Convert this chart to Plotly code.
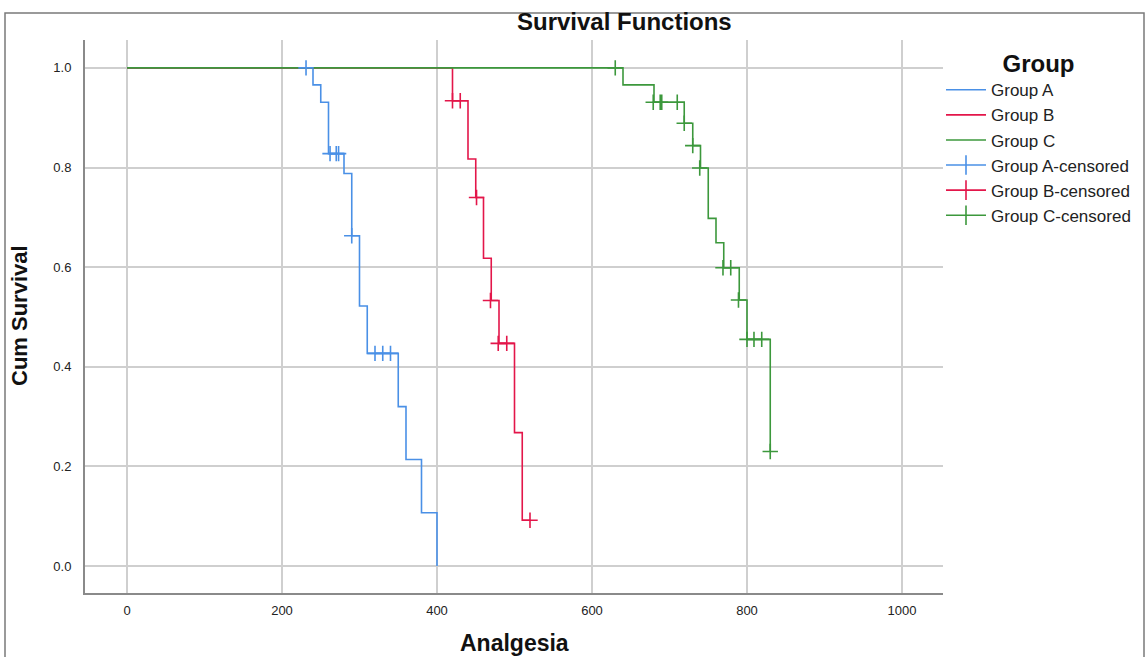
import plotly.graph_objects as go

# ---- data ----
groups = ["Group A", "Group B", "Group C"]

a_time = [0, 240, 250, 260, 280, 290, 300, 310, 350, 360, 380, 400]
a_surv = [1.0, 0.966, 0.931, 0.828, 0.788, 0.663, 0.522, 0.427, 0.320, 0.214, 0.107, 0.0]
a_cens_time = [231, 262, 270, 273, 290, 320, 330, 340]
a_cens_surv = [1.0, 0.828, 0.828, 0.828, 0.663, 0.427, 0.427, 0.427]

b_time = [0, 420, 440, 450, 460, 470, 480, 500, 510, 520]
b_surv = [1.0, 0.934, 0.817, 0.740, 0.618, 0.533, 0.447, 0.268, 0.092, 0.092]
b_cens_time = [420, 430, 451, 469, 479, 490, 520]
b_cens_surv = [0.934, 0.934, 0.740, 0.533, 0.447, 0.447, 0.092]

c_time = [0, 640, 680, 719, 730, 740, 750, 760, 770, 790, 800, 830]
c_surv = [1.0, 0.966, 0.931, 0.889, 0.844, 0.799, 0.698, 0.649, 0.599, 0.534, 0.455, 0.230]
c_cens_time = [630, 679, 688, 690, 710, 719, 730, 739, 769, 779, 789, 800, 809, 819, 830]
c_cens_surv = [1.0, 0.931, 0.931, 0.931, 0.931, 0.889, 0.844, 0.799, 0.599, 0.599, 0.534, 0.455, 0.455, 0.455, 0.230]

x_ticks = [0, 200, 400, 600, 800, 1000]
y_ticks = [0.0, 0.2, 0.4, 0.6, 0.8, 1.0]
y_tick_text = ["0.0", "0.2", "0.4", "0.6", "0.8", "1.0"]

colors = ["#4a90e6", "#e3164a", "#3c983c"]

series = [
    (a_time, a_surv, a_cens_time, a_cens_surv),
    (b_time, b_surv, b_cens_time, b_cens_surv),
    (c_time, c_surv, c_cens_time, c_cens_surv),
]

FONT = "Liberation Sans, Arial, sans-serif"

fig = go.Figure()

for name, col, (t, s, _, _) in zip(groups, colors, series):
    fig.add_trace(go.Scatter(
        x=t, y=s, mode="lines", line=dict(color=col, width=1.6, shape="hv"),
        name=name, legendrank=1))

for name, col, (_, _, ct, cs) in zip(groups, colors, series):
    fig.add_trace(go.Scatter(
        x=ct, y=cs, mode="markers",
        marker=dict(symbol="cross-thin-open", size=11, color=col,
                    line=dict(color=col, width=1.6)),
        name=name + "-censored", showlegend=False, hoverinfo="x+y"))
    # legend entry (line with a vertical tick)
    fig.add_trace(go.Scatter(
        x=[None], y=[None], mode="lines+markers",
        line=dict(color=col, width=1.6),
        marker=dict(symbol="line-ns-open", size=14, color=col,
                    line=dict(color=col, width=1.6)),
        name=name + "-censored", legendrank=2))

W, H = 1160, 657          # a few px wider than the window so the legend needs no margin push
L, R, T, B = 85, 943, 40, 593
pw, ph = R - L, B - T

def px(xpix):
    return (xpix - L) / pw

def py(ypix):
    return (B - ypix) / ph

fig.update_layout(
    width=W, height=H,
    margin=dict(l=L, r=W - R, t=T, b=H - B),
    paper_bgcolor="white", plot_bgcolor="white",
    font=dict(family=FONT, color="#222222"),
    showlegend=True,
    legend=dict(
        x=px(941), y=py(41), xanchor="left", yanchor="top",
        font=dict(size=17, family=FONT, color="#222222"),
        title=dict(text="<b>Group</b>", side="top center",
                   font=dict(size=24, family=FONT, color="#111111")),
        tracegroupgap=0, itemwidth=40, bgcolor="rgba(0,0,0,0)",
    ),
    xaxis=dict(
        range=[-54.2, 1052.9], tickvals=x_ticks, ticktext=[str(v) for v in x_ticks],
        showgrid=True, gridcolor="#cfcfcf", gridwidth=2,
        showline=True, linecolor="#8a8a8a", linewidth=2,
        zeroline=False, ticks="", ticklabelstandoff=4,
        tickfont=dict(size=13, family=FONT, color="#222222"),
    ),
    yaxis=dict(
        range=[-0.054, 1.056], tickvals=y_ticks, ticktext=y_tick_text,
        showgrid=True, gridcolor="#cfcfcf", gridwidth=2,
        showline=True, linecolor="#8a8a8a", linewidth=2,
        zeroline=False, ticks="", ticklabelstandoff=9,
        tickfont=dict(size=13, family=FONT, color="#222222"),
    ),
    shapes=[
        dict(type="rect", xref="paper", yref="paper",
             x0=px(5), x1=px(1144), y0=py(670), y1=py(13),
             line=dict(color="#7a7a7a", width=1.5), fillcolor="rgba(0,0,0,0)", layer="below"),
    ],
    annotations=[
        dict(text="<b>Survival Functions</b>", xref="paper", yref="paper",
             x=px(624), y=py(22), xanchor="center", yanchor="middle", showarrow=False,
             font=dict(size=24, family=FONT, color="#111111")),
        dict(text="<b>Cum Survival</b>", xref="paper", yref="paper",
             x=px(19), y=py(316), xanchor="center", yanchor="middle", showarrow=False,
             textangle=-90, font=dict(size=22, family=FONT, color="#111111")),
        dict(text="<b>Analgesia</b>", xref="paper", yref="paper",
             x=px(514), y=py(643), xanchor="center", yanchor="middle", showarrow=False,
             font=dict(size=23, family=FONT, color="#111111")),
    ],
)

fig.write_html(
    "out.html",
    config={"displayModeBar": False},
    post_script="document.body.style.margin='0px';document.body.style.overflow='hidden';",
)
